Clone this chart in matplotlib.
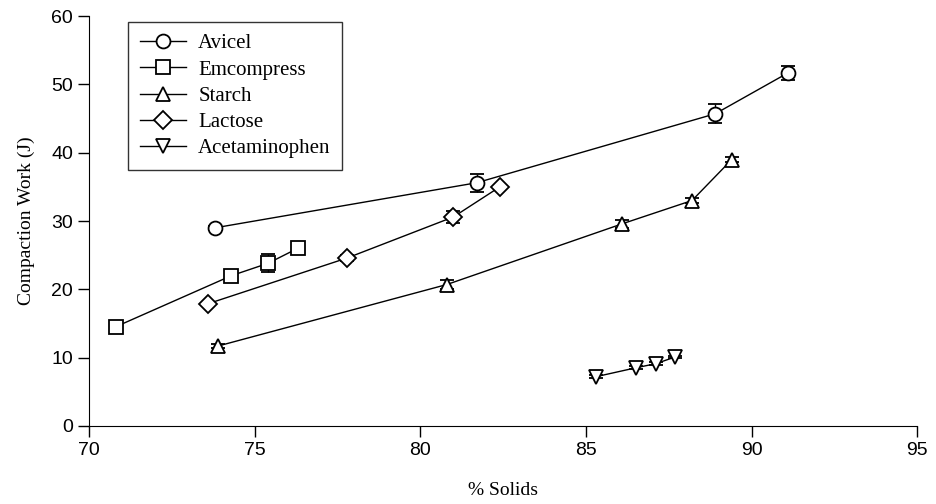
import matplotlib.pyplot as plt
from matplotlib.lines import Line2D

# Data
avicel_x = [73.8, 81.7, 88.9, 91.1]
avicel_y = [29.0, 35.6, 45.7, 51.7]
avicel_err = [0.3, 1.3, 1.4, 1.0]

emcompress_x = [70.8, 74.3, 75.4, 76.3]
emcompress_y = [14.5, 22.0, 23.8, 26.0]
emcompress_err = [0.3, 0.4, 1.3, 0.4]

starch_x = [73.9, 80.8, 86.1, 88.2, 89.4]
starch_y = [11.7, 20.7, 29.6, 33.0, 39.0]
starch_err = [0.3, 0.6, 0.6, 0.3, 0.4]

lactose_x = [73.6, 77.8, 81.0, 82.4]
lactose_y = [17.9, 24.6, 30.6, 35.0]
lactose_err = [0.3, 0.4, 0.9, 0.3]

acet_x = [85.3, 86.5, 87.1, 87.7]
acet_y = [7.2, 8.5, 9.1, 10.1]
acet_err = [0.2, 0.2, 0.2, 0.2]

series = [
    ("Avicel", avicel_x, avicel_y, avicel_err, "o"),
    ("Emcompress", emcompress_x, emcompress_y, emcompress_err, "s"),
    ("Starch", starch_x, starch_y, starch_err, "^"),
    ("Lactose", lactose_x, lactose_y, lactose_err, "D"),
    ("Acetaminophen", acet_x, acet_y, acet_err, "v"),
]

fig = plt.figure(figsize=(9.37, 5.04), dpi=100)
ax = fig.add_axes([0.095, 0.155, 0.884, 0.813])

handles = []
for name, x, y, err, m in series:
    ms = 9 if m == "D" else 10
    ax.errorbar(x, y, yerr=err, color="black", lw=1, marker=m, ms=ms,
                mfc="white", mec="black", mew=1.3, capsize=5, elinewidth=1)
    handles.append(Line2D([], [], color="black", lw=1, marker=m, ms=ms,
                          mfc="white", mec="black", mew=1.3, label=name))

ax.set_xlim(70, 95)
ax.set_ylim(0, 60)
ax.set_xticks([70, 75, 80, 85, 90, 95])
ax.set_yticks([0, 10, 20, 30, 40, 50, 60])
ax.spines["top"].set_visible(False)
ax.spines["right"].set_visible(False)
ax.tick_params(direction="out", length=8, width=1, labelsize=14)
for lbl in ax.get_xticklabels() + ax.get_yticklabels():
    lbl.set_family("Liberation Sans")

ax.set_xlabel("% Solids", family="Liberation Serif", fontsize=14, labelpad=17)
ax.set_ylabel("Compaction Work (J)", family="Liberation Serif", fontsize=14, labelpad=12)

leg = ax.legend(handles=handles, loc="upper left", bbox_to_anchor=(0.035, 1.01),
                frameon=True, fancybox=False, edgecolor="black", handlelength=2.2,
                prop={"family": "Liberation Serif", "size": 15},
                labelspacing=0.32, borderpad=0.55, handletextpad=0.6)
leg.get_frame().set_linewidth(1)

plt.savefig("out.png", dpi=100)
